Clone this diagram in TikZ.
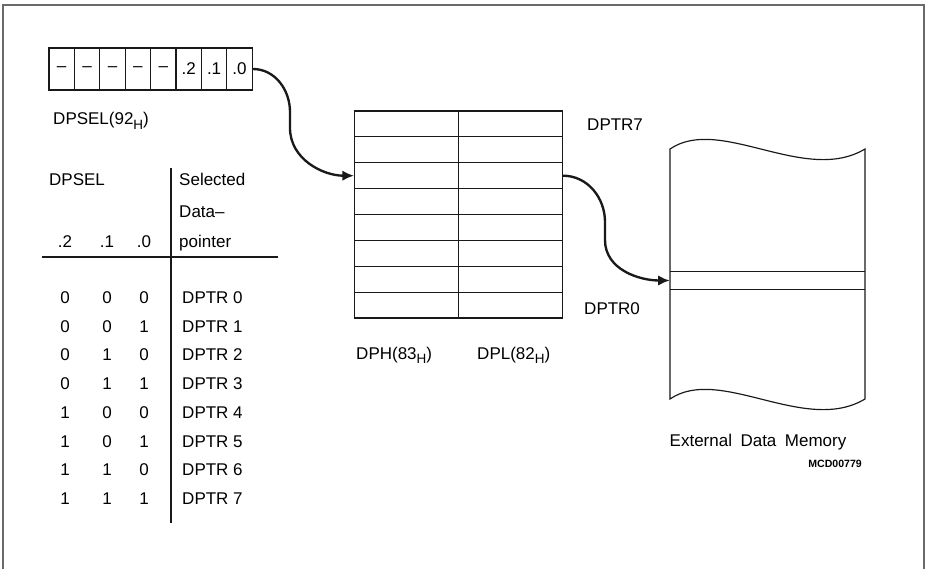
\documentclass[tikz,border=0pt]{standalone}
\usepackage{fontspec}
\setmainfont{Liberation Sans}
\usepackage{tikz}
\usetikzlibrary{arrows.meta}
\definecolor{figline}{RGB}{25,25,25}
\newcommand{\pxu}{0.03cm}
\newcommand{\subH}{\raisebox{-0.5ex}{\fontsize{11.5}{11.5}\selectfont H}}
\tikzset{
  frm/.style  ={draw=figline!65, line width=0.9pt},
  sc/.style   ={draw=figline, line width=1pt},
  cell/.style ={sc, minimum width=25.4*\pxu, minimum height=42*\pxu, inner sep=0pt, font=\fontsize{14.5}{16}\selectfont},
  reg/.style  ={sc, minimum width=103.8*\pxu, minimum height=25.9*\pxu, inner sep=0pt},
  lab/.style  ={font=\fontsize{14.5}{16}\selectfont, inner sep=0pt},
  labs/.style ={font=\fontsize{9}{11}\selectfont\bfseries, inner sep=0pt},
  ptr/.style  ={draw=figline, line width=2pt, -{Latex[length=10pt,width=9pt]}},
}
\begin{document}
\begin{tikzpicture}[x=\pxu,y=-\pxu]
  \useasboundingbox (0,0) rectangle (925,569);
  \draw[frm] (3,569) -- (3,5) -- (924,5) -- (924,569);
  % DPSEL register
  \node[cell] (b7) at (61.7,69) {--};
  \node[cell] (b6) at (87.1,69) {--};
  \node[cell] (b5) at (112.5,69) {--};
  \node[cell] (b4) at (137.9,69) {--};
  \node[cell] (b3) at (163.3,69) {--};
  \node[cell] (b2) at (188.7,69) {.2};
  \node[cell] (b1) at (214.1,69) {.1};
  \node[cell] (b0) at (239.5,69) {.0};
  \node[lab,anchor=base west] (selname) at (53,125) {DPSEL(92\subH)};
  % selection table
  \node[lab,anchor=base west] (hdsel) at (49,186) {DPSEL};
  \node[lab,anchor=base west] (hdsela) at (179,186) {Selected};
  \node[lab,anchor=base west] (hdselb) at (179,218) {Data--};
  \node[lab,anchor=base west] (hdselc) at (179,248) {pointer};
  \node[lab,anchor=base] (hd2) at (65,248) {.2};
  \node[lab,anchor=base] (hd1) at (107,248) {.1};
  \node[lab,anchor=base] (hd0) at (144,248) {.0};
  \draw[sc] (42,257) -- (278,257);
  \draw[sc] (171,168) -- (171,523);
  \node[lab,anchor=base] (q2r0) at (65,303) {0}; \node[lab,anchor=base] (q1r0) at (107,303) {0}; \node[lab,anchor=base] (q0r0) at (144,303) {0}; \node[lab,anchor=base west] (dp0) at (182,303) {DPTR\hspace{4pt}0};
  \node[lab,anchor=base] (q2r1) at (65,332) {0}; \node[lab,anchor=base] (q1r1) at (107,332) {0}; \node[lab,anchor=base] (q0r1) at (144,332) {1}; \node[lab,anchor=base west] (dp1) at (182,332) {DPTR\hspace{4pt}1};
  \node[lab,anchor=base] (q2r2) at (65,360) {0}; \node[lab,anchor=base] (q1r2) at (107,360) {1}; \node[lab,anchor=base] (q0r2) at (144,360) {0}; \node[lab,anchor=base west] (dp2) at (182,360) {DPTR\hspace{4pt}2};
  \node[lab,anchor=base] (q2r3) at (65,389) {0}; \node[lab,anchor=base] (q1r3) at (107,389) {1}; \node[lab,anchor=base] (q0r3) at (144,389) {1}; \node[lab,anchor=base west] (dp3) at (182,389) {DPTR\hspace{4pt}3};
  \node[lab,anchor=base] (q2r4) at (65,418) {1}; \node[lab,anchor=base] (q1r4) at (107,418) {0}; \node[lab,anchor=base] (q0r4) at (144,418) {0}; \node[lab,anchor=base west] (dp4) at (182,418) {DPTR\hspace{4pt}4};
  \node[lab,anchor=base] (q2r5) at (65,447) {1}; \node[lab,anchor=base] (q1r5) at (107,447) {0}; \node[lab,anchor=base] (q0r5) at (144,447) {1}; \node[lab,anchor=base west] (dp5) at (182,447) {DPTR\hspace{4pt}5};
  \node[lab,anchor=base] (q2r6) at (65,475) {1}; \node[lab,anchor=base] (q1r6) at (107,475) {1}; \node[lab,anchor=base] (q0r6) at (144,475) {0}; \node[lab,anchor=base west] (dp6) at (182,475) {DPTR\hspace{4pt}6};
  \node[lab,anchor=base] (q2r7) at (65,504) {1}; \node[lab,anchor=base] (q1r7) at (107,504) {1}; \node[lab,anchor=base] (q0r7) at (144,504) {1}; \node[lab,anchor=base west] (dp7) at (182,504) {DPTR\hspace{4pt}7};
  % data pointer bank
  \node[reg] (hi7) at (406.5,123.9) {}; \node[reg] (lo7) at (510.5,123.9) {};
  \node[reg] (hi6) at (406.5,149.8) {}; \node[reg] (lo6) at (510.5,149.8) {};
  \node[reg] (hi5) at (406.5,175.7) {}; \node[reg] (lo5) at (510.5,175.7) {};
  \node[reg] (hi4) at (406.5,201.6) {}; \node[reg] (lo4) at (510.5,201.6) {};
  \node[reg] (hi3) at (406.5,227.4) {}; \node[reg] (lo3) at (510.5,227.4) {};
  \node[reg] (hi2) at (406.5,253.3) {}; \node[reg] (lo2) at (510.5,253.3) {};
  \node[reg] (hi1) at (406.5,279.2) {}; \node[reg] (lo1) at (510.5,279.2) {};
  \node[reg] (hi0) at (406.5,305.1) {}; \node[reg] (lo0) at (510.5,305.1) {};
  \node[lab,anchor=base west] (top) at (587,131) {DPTR7};
  \node[lab,anchor=base west] (bot) at (584,314) {DPTR0};
  \node[lab,anchor=base west] (dph) at (356,359) {DPH(83\subH)};
  \node[lab,anchor=base west] (dpl) at (477,359) {DPL(82\subH)};
  % external memory
  \draw[sc] (670,149) .. controls (720,115) and (805,185) .. (865,149) -- (865,399)
    .. controls (805,435) and (720,365) .. (670,399) -- cycle;
  \node[minimum width=195*\pxu, minimum height=17*\pxu, inner sep=0pt] (slot) at (767.5,280.5) {};
  \draw[sc] (slot.north west) -- (slot.north east);
  \draw[sc] (slot.south west) -- (slot.south east);
  \node[lab,anchor=base] (mem) at (758,446) {External\enspace Data\enspace Memory};
  \node[labs,anchor=base east] (code) at (862,467) {MCD00779};
  % pointers
  \draw[ptr] (b0.east) to[out=0,in=90] (290,112) -- (290,128) to[out=-90,in=180] (hi5.west);
  \draw[ptr] (lo5.east) to[out=0,in=90] (605,222) -- (605,240) to[out=-90,in=180] (slot.west);
\end{tikzpicture}
\end{document}
